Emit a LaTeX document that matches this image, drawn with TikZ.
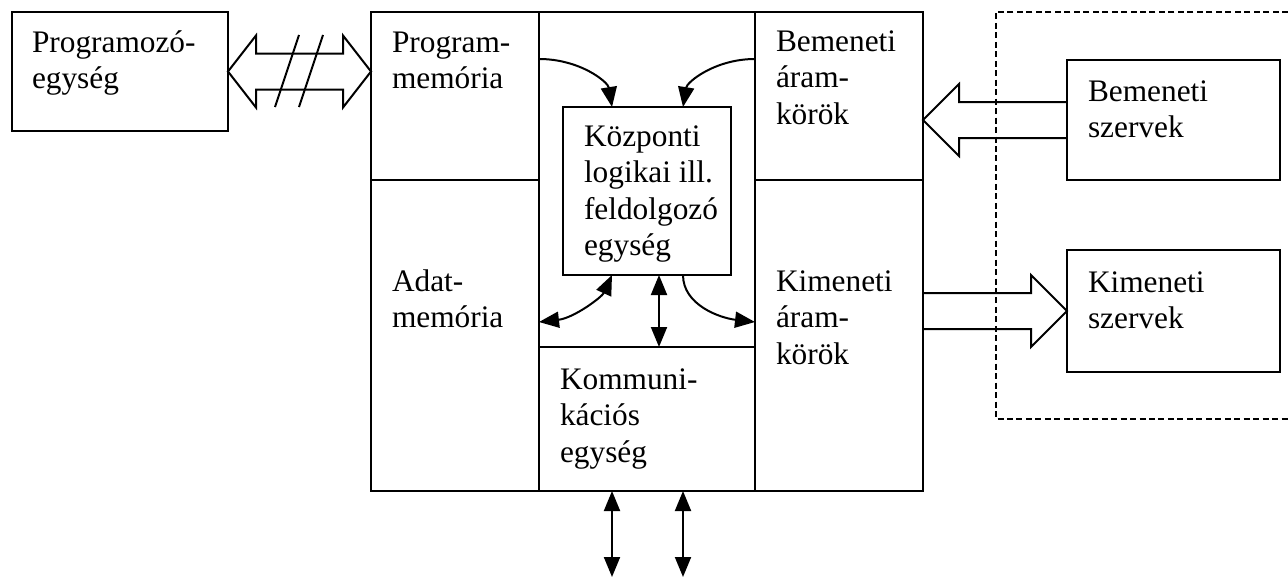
\documentclass[tikz,border=0pt]{standalone}
\usepackage{fontspec}
\setmainfont{Liberation Serif}
\usetikzlibrary{arrows.meta,calc}
% left-aligned text block whose reference point is the first baseline
\newcommand{\blocktext}[1]{\begin{tabular}[t]{@{}l@{}}#1\end{tabular}}
\begin{document}
\begin{tikzpicture}[x=0.75pt,y=-0.75pt,
  box/.style={draw, line width=1.5pt, inner sep=0pt, outer sep=0pt, anchor=north west},
  sz/.style 2 args={minimum width=#1*0.75pt, minimum height=#2*0.75pt},
  lbl/.style={inner sep=0pt, outer sep=0pt, anchor=base west,
    font=\fontsize{23.5pt}{27.4pt}\selectfont},
  conn/.style={line width=1.5pt, line join=miter},
  head/.style={-{Triangle[length=15pt,width=12pt]}},
  heads/.style={{Triangle[length=15pt,width=12pt]}-{Triangle[length=15pt,width=12pt]}},
  dashedline/.style={line width=1.5pt, dash pattern=on 4.5pt off 2.6pt}]
\useasboundingbox (0,0) rectangle (1288,578);

% blocks
\node[box, sz={216}{119}] (prog) at (12,12) {};
\node[box, sz={168}{168}] (pm) at (371,12) {};
\node[box, sz={168}{311}] (dm) at (371,180) {};
\node[box, sz={216}{335}] (mid) at (539,12) {};
\node[box, sz={216}{144}] (kom) at (539,347) {};
\node[box, sz={168}{168}] (bi) at (755,12) {};
\node[box, sz={168}{311}] (ko) at (755,180) {};
\node[box, sz={168}{168}] (cpu) at (563,107) {};
\node[box, sz={213}{120}] (bsz) at (1067,60) {};
\node[box, sz={213}{122}] (ksz) at (1067,250) {};

% texts
\node[lbl] (progtxt) at (32,52) {\blocktext{Programozó-\\egység}};
\node[lbl] (pmtxt) at (392,52) {\blocktext{Program-\\memória}};
\node[lbl] (bitxt) at (776,51) {\blocktext{Bemeneti\\áram-\\körök}};
\node[lbl] (cputxt) at (584,146) {\blocktext{Központi\\logikai ill.\\feldolgozó\\egység}};
\node[lbl] (dmtxt) at (392,291) {\blocktext{Adat-\\memória}};
\node[lbl] (kotxt) at (776,291) {\blocktext{Kimeneti\\áram-\\körök}};
\node[lbl] (komtxt) at (560,389) {\blocktext{Kommuni-\\kációs\\egység}};
\node[lbl] (bsztxt) at (1088,101) {\blocktext{Bemeneti\\szervek}};
\node[lbl] (ksztxt) at (1088,292) {\blocktext{Kimeneti\\szervek}};

% external devices area
\draw[dashedline] (1288,12) -- (996,12) -- (996,419) -- (1288,419);

% bus between programming unit and program memory
\draw[conn] (prog.east) -- ++(28,-36) -- ++(0,18) -- ++(87,0) -- ++(0,-18)
  -- (pm.west |- prog.east) -- ++(-28,36) -- ++(0,-18) -- ++(-87,0) -- ++(0,18) -- cycle;
\draw[conn] (275,107) -- (299,35);
\draw[conn] (299,107) -- (323,35);

% input and output fat arrows
\draw[conn] ($(bsz.west)+(0,-18)$) -- ++(-108,0) -- ++(0,-18)
  -- (bi.east |- bsz.west) -- ++(36,36) -- ++(0,-18) -- ($(bsz.west)+(0,18)$);
\draw[conn] ($(ko.east |- ksz.west)+(0,-18)$) -- ++(108,0) -- ++(0,-18)
  -- (ksz.west) -- ++(-36,36) -- ++(0,-18) -- ($(ko.east |- ksz.west)+(0,18)$);

% internal data flow
\coordinate (pmout) at ($(mid.north west)+(0,47)$);
\coordinate (biout) at ($(mid.north east)+(0,47)$);
\coordinate (cpuinl) at ($(cpu.north west)+(49,0)$);
\coordinate (cpuinr) at ($(cpu.north east)+(-48,0)$);
\coordinate (cpubl) at ($(cpu.south west)+(49,0)$);
\coordinate (cpubm) at ($(cpu.south west)+(96,0)$);
\coordinate (cpubr) at ($(cpu.south east)+(-48,0)$);
\coordinate (dmin) at ($(mid.south west)+(0,-25)$);
\coordinate (koin) at ($(mid.south east)+(0,-25)$);
\draw[conn, head] (pmout) .. controls +(41,0) and +(-4,-25) .. (cpuinl);
\draw[conn, head] (biout) .. controls +(-40,0) and +(4,-25) .. (cpuinr);
\draw[conn, heads] (dmin) .. controls +(35,-4) and +(-10,22) .. (cpubl);
\draw[conn, heads] (cpubm) -- (cpubm |- kom.north);
\draw[conn, head] (cpubr) .. controls +(0,30) and +(-35,-4) .. (koin);

% communication lines
\coordinate (kl) at ($(kom.south west)+(73,0)$);
\coordinate (kr) at ($(kom.south west)+(144,0)$);
\coordinate (klend) at (kl |- 0,577);
\coordinate (krend) at (kr |- 0,577);
\draw[conn, heads] (kl) -- (klend);
\draw[conn, heads] (kr) -- (krend);
\end{tikzpicture}
\end{document}
